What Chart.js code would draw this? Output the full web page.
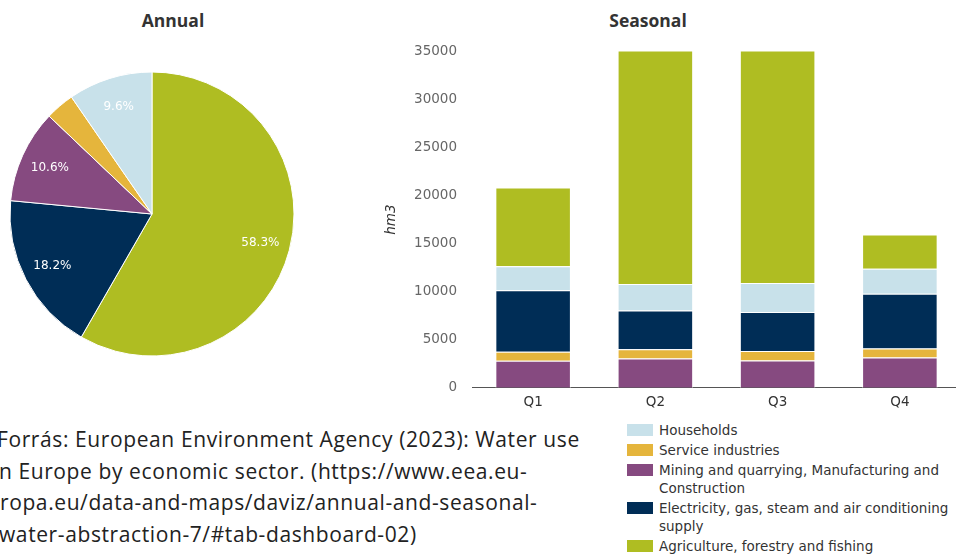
<!DOCTYPE html>
<html>
<head>
<meta charset="utf-8">
<script src="https://cdn.jsdelivr.net/npm/chart.js@4.4.1/dist/chart.umd.min.js"></script>
<style>
    html, body { margin: 0; padding: 0; width: 956px; height: 554px; overflow: hidden; background: #fff; }
    .title { position: absolute; top: 8px; font: bold 17.5px "Open Sans"; color: #333; transform: translateX(-50%); white-space: nowrap; }
    #pieCanvas { position: absolute; left: 0; top: 62px; }
    #barCanvas { position: absolute; left: 380px; top: 0; }
    #legend { position: absolute; left: 627px; top: 421px; width: 334px; font: 13.5px "DejaVu Sans"; color: #333; }
    .item { display: flex; align-items: flex-start; margin-bottom: 2px; line-height: 18px; }
    .swatch { flex: none; width: 26px; height: 12px; margin: 3px 6px 0 0; }
    #source { position: absolute; left: 0; top: 424px; font: 21px "Open Sans"; letter-spacing: 0.6px; line-height: 31.7px; color: #222; white-space: nowrap; }
    #source div { position: relative; }
</style>
</head>
<body>
<div class="title" style="left:173px">Annual</div>
<div class="title" style="left:648px">Seasonal</div>
<canvas id="pieCanvas" width="304" height="304"></canvas>
<canvas id="barCanvas" width="590" height="420"></canvas>
<div id="legend"></div>
<div id="source">
    <div style="left:-3px">Forrás: European Environment Agency (2023): Water use</div>
    <div style="left:-7px">in Europe by economic sector. (https://www.eea.eu-</div>
    <div style="left:0px">ropa.eu/data-and-maps/daviz/annual-and-seasonal-</div>
    <div style="left:-1px">water-abstraction-7/#tab-dashboard-02)</div>
</div>
<script>
// Sectors in legend order
const sectors = [
    'Households',
    'Service industries',
    'Mining and quarrying, Manufacturing and Construction',
    'Electricity, gas, steam and air conditioning supply',
    'Agriculture, forestry and fishing'
];
const colors = ['#c8e1ea', '#e5b53c', '#864a80', '#002d56', '#afbd22'];

const quarters = ['Q1', 'Q2', 'Q3', 'Q4'];
const households = [2500, 2760, 3020, 2600];
const service = [950, 970, 990, 940];
const mining = [2800, 3040, 2830, 3150];
const electricity = [6400, 4030, 4060, 5700];
const agriculture = [8200, 26800, 26800, 3550];

// Annual shares (%), legend order
const annualShare = [9.6, 3.3, 10.6, 18.2, 58.3];

const yTicks = { min: 0, max: 35000, step: 5000 };

const seasonal = [households, service, mining, electricity, agriculture];
// bottom to top in the stacked bars
const stackOrder = [2, 1, 3, 0, 4];

const tickFont = { family: 'DejaVu Sans', size: 13.5 };

// Percent labels inside the pie slices
const pieLabels = {
    id: 'pieLabels',
    afterDatasetsDraw(chart) {
        const ctx = chart.ctx;
        const meta = chart.getDatasetMeta(0);
        const values = chart.data.datasets[0].data;
        const total = values.reduce((a, b) => a + b, 0);
        ctx.save();
        ctx.font = '12px "DejaVu Sans"';
        ctx.fillStyle = '#fff';
        ctx.textAlign = 'center';
        ctx.textBaseline = 'middle';
        meta.data.forEach((arc, i) => {
            const pct = values[i] / total * 100;
            if (pct < 5) return;
            const p = arc.getProps(['x', 'y', 'startAngle', 'endAngle', 'outerRadius']);
            const mid = (p.startAngle + p.endAngle) / 2;
            const d = p.outerRadius * 0.79;
            ctx.fillText(pct.toFixed(1) + '%', p.x + Math.cos(mid) * d, p.y + Math.sin(mid) * d);
        });
        ctx.restore();
    }
};

document.addEventListener('DOMContentLoaded', function() {
    // Pie runs clockwise from the top, starting with the last sector
    const pieOrder = sectors.map((s, i) => i).reverse();

    new Chart(document.getElementById('pieCanvas'), {
        type: 'pie',
        data: {
            labels: pieOrder.map(i => sectors[i]),
            datasets: [{
                data: pieOrder.map(i => annualShare[i]),
                backgroundColor: pieOrder.map(i => colors[i]),
                borderColor: '#fff',
                borderWidth: 1
            }]
        },
        options: {
            responsive: false,
            animation: false,
            layout: { padding: 9.5 },
            plugins: {
                legend: { display: false },
                tooltip: { enabled: false }
            }
        },
        plugins: [pieLabels]
    });

    new Chart(document.getElementById('barCanvas'), {
        type: 'bar',
        data: {
            labels: quarters,
            datasets: stackOrder.map(i => ({
                label: sectors[i],
                data: seasonal[i],
                backgroundColor: colors[i],
                borderColor: '#fff',
                borderWidth: 1,
                categoryPercentage: 1,
                barPercentage: 0.618,
                clip: 0
            }))
        },
        options: {
            responsive: false,
            animation: false,
            layout: { padding: { left: 3, right: 9, top: 51.5, bottom: 2.3 } },
            plugins: {
                legend: { display: false },
                tooltip: { enabled: false }
            },
            scales: {
                x: {
                    stacked: true,
                    grid: { display: false, drawTicks: false },
                    border: { display: true, color: '#555', width: 1 },
                    ticks: { color: '#333', font: tickFont, padding: 7 },
                    afterFit: function(scale) { scale.height = 30; }
                },
                y: {
                    stacked: true,
                    min: yTicks.min,
                    max: yTicks.max,
                    grid: { display: false, drawTicks: false },
                    border: { display: false },
                    ticks: {
                        stepSize: yTicks.step,
                        color: '#666',
                        font: tickFont,
                        padding: 15,
                        callback: v => String(v)
                    },
                    title: {
                        display: true,
                        text: 'hm3',
                        color: '#333',
                        padding: 0,
                        font: { family: 'DejaVu Sans', size: 13.5, style: 'italic' }
                    },
                    afterFit: function(scale) { scale.width = 89; }
                }
            }
        }
    });

    // Legend built from the same sector list
    const legend = document.getElementById('legend');
    sectors.forEach((name, i) => {
        const item = document.createElement('div');
        item.className = 'item';
        const sw = document.createElement('span');
        sw.className = 'swatch';
        sw.style.background = colors[i];
        const txt = document.createElement('span');
        txt.textContent = name;
        item.appendChild(sw);
        item.appendChild(txt);
        legend.appendChild(item);
    });
});
</script>
</body>
</html>
